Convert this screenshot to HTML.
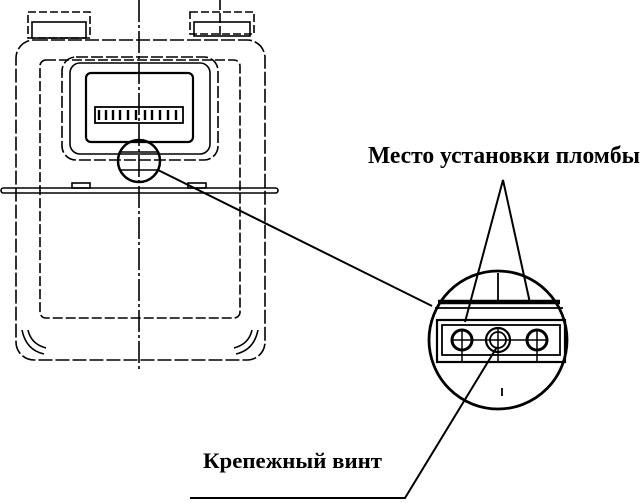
<!DOCTYPE html>
<html><head><meta charset="utf-8"><style>html,body{margin:0;padding:0;background:#fff}svg{display:block}</style></head><body>
<svg width="641" height="503" viewBox="0 0 641 503" xmlns="http://www.w3.org/2000/svg">
<g fill="none" stroke="#000" stroke-width="1.6">
<rect x="28" y="12" width="62" height="26" stroke-dasharray="8 3"/>
<rect x="32" y="22" width="54" height="16"/>
<rect x="190" y="12" width="64" height="22" stroke-dasharray="8 3"/>
<rect x="194" y="22" width="56" height="14"/>
<rect x="16" y="40" width="249" height="320" rx="18" stroke-dasharray="14 3"/>
<rect x="40" y="60" width="200" height="258" rx="6" stroke-dasharray="10 3"/>
<path d="M22 330 q4 20 22 24 M28 330 q3 14 18 18 M258 330 q-4 20 -22 24 M252 330 q-3 14 -18 18"/>
<rect x="62" y="57" width="156" height="103" rx="14" stroke-dasharray="12 3"/>
<rect x="70" y="63" width="140" height="91" rx="10"/>
<rect x="86" y="73" width="107" height="69" rx="5" stroke-width="2.2"/>
<rect x="95" y="107" width="88" height="16" stroke-width="1.8"/>
<path d="M99 110v10M106 110v10M113 110v10M120 110v10M128 110v10M136 110v10M145 110v10M152 110v10M160 110v10M168 110v10M176 110v10" stroke-width="2.4"/>
<circle cx="139" cy="161" r="21" stroke-width="2.5"/>
<path d="M120 152h38M120 170h38"/>
<rect x="1" y="188" width="277" height="5" rx="2.5"/>
<rect x="72" y="183" width="18" height="5"/>
<rect x="188" y="183" width="18" height="5"/>
<path d="M139 0V370" stroke-dasharray="22 3 3 3"/>
<path d="M220 0V35" stroke-dasharray="10 3"/>
<path d="M158 170 L432 306" stroke-width="2"/>
<circle cx="498" cy="340" r="69" stroke-width="2.8"/>
<path d="M438 302h122" stroke-width="4.5"/>
<path d="M435 308h128" stroke-width="1.8"/>
<path d="M498 273v29" stroke-width="1.8"/>
<rect x="437" y="320" width="128" height="42" stroke-width="2.2"/>
<rect x="442" y="325" width="118" height="30" stroke-width="1.8"/>
<circle cx="462" cy="340" r="10" stroke-width="3"/>
<circle cx="498" cy="340" r="12" stroke-width="2.2"/>
<circle cx="498" cy="340" r="8" stroke-width="1.8"/>
<circle cx="537" cy="340" r="10" stroke-width="3"/>
<path d="M452 340h95M462 330v33M498 328v35M537 330v33" stroke-width="1.5"/>
<path d="M502 388v8" stroke-width="1.8"/>
<path d="M465 322 L503 180 L530 303" stroke-width="2"/>
<path d="M497 347 L405 498 L190 498" stroke-width="2"/>
</g>
<text x="368" y="163" font-family="Liberation Serif, serif" font-size="24" font-weight="bold" textLength="272" lengthAdjust="spacingAndGlyphs">Место установки пломбы</text>
<text x="203" y="468" font-family="Liberation Serif, serif" font-size="22" font-weight="bold" textLength="179" lengthAdjust="spacingAndGlyphs">Крепежный винт</text>
</svg>
</body></html>
